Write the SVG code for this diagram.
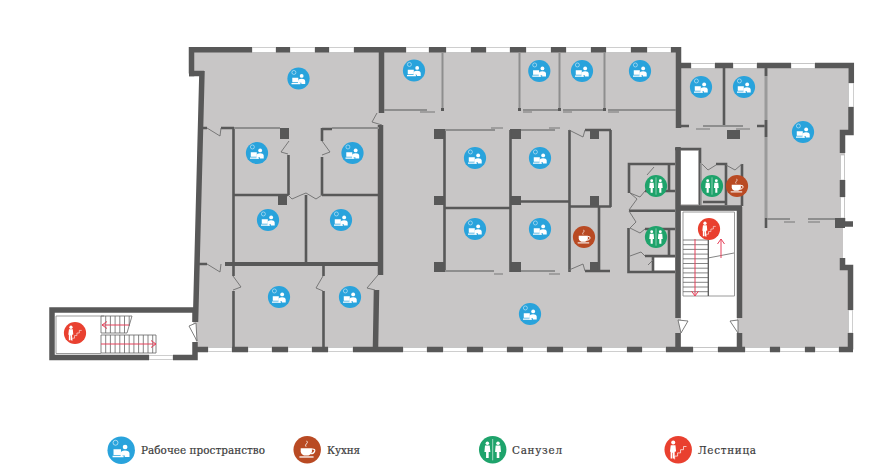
<svg xmlns="http://www.w3.org/2000/svg" width="896" height="476" viewBox="0 0 896 476">
<style>
text{font-family:"DejaVu Serif","Liberation Serif",serif;font-size:10.4px;fill:#3a3a3a;stroke:#3a3a3a;stroke-width:.18}
path,line,polyline{fill:none}
.f{fill:#c8c6c6}
.w{stroke:#585858;stroke-width:5.5}
.m{stroke:#585858;stroke-width:2.6}
.l{stroke:#8e8e8e;stroke-width:2}
.d{stroke:#6e6e6e;stroke-width:.9}
.b{fill:#585858}
.win{fill:#fff;stroke:#b9b9b9;stroke-width:.7}
.t{stroke:#666;stroke-width:.8}
.r{stroke:#e5405a;stroke-width:1}
.g{fill:#fff}
.gs{stroke:#fff;stroke-width:.8;fill:none}
</style>
<defs>
<marker id="ah" markerWidth="8" markerHeight="8" refX="6" refY="4" orient="auto" markerUnits="userSpaceOnUse"><path d="M1 .5L6 4L1 7.500" stroke="#e5405a" stroke-width="1"/></marker>
<symbol id="work" viewBox="-12 -12 24 24" overflow="visible">
<circle r="11.600" fill="#29a3dc"/>
<circle cx="-4.800" cy="-6.300" r="2.100" class="gs" style="stroke-width:.5"/>
<circle cx="3.300" cy="-2.700" r="2" class="g"/>
<path class="g" d="M-.5 5.800V2.500Q-.2 .2 3.200 .2T7 2.500V5.800H3V4.500H1V5.800Z"/>
<path class="g" d="M-6.500 -.8H-.2V4H-6.500ZM-7.300 4.600H2V6H-7.300Z"/>
</symbol>
<symbol id="cup" viewBox="-12 -12 24 24" overflow="visible">
<circle r="11.600" fill="#b94a23"/>
<path class="g" d="M-5.500 -1.200H4V1.500Q3.500 5 -.8 5T-5.500 1.500Z"/>
<path class="gs" style="stroke-width:1" d="M4 -.6Q7 -.8 6.300 1.300T3 3.400"/>
<path class="g" d="M-6.600 5.600H5.400V6.700H-6.600Z"/>
<path class="gs" style="stroke-width:.7" d="M-1 -2.500Q-2 -4 -.6 -5T-.4 -7.500"/>
</symbol>
<symbol id="wc" viewBox="-12 -12 24 24" overflow="visible">
<circle r="11.600" fill="#1ea36b"/>
<path d="M0 -9V9" class="gs" style="stroke-width:.5"/>
<circle cx="-4.500" cy="-5.500" r="1.500" class="g"/>
<circle cx="4.500" cy="-5.500" r="1.500" class="g"/>
<path class="g" d="M-6.500 -3.500H-2.500L-2 2H-3.400V7H-5.600V2H-7Z"/>
<path class="g" d="M2.500 -3.500H6.500L7 2H5.600V7H3.400V2H2Z"/>
</symbol>
<symbol id="stair" viewBox="-12 -12 24 24" overflow="visible">
<circle r="11.600" fill="#e9402f"/>
<circle cx="-4.200" cy="-6" r="1.700" class="g"/>
<path class="g" d="M-6.300 -3.800H-2.300L-1.800 1.500L-3 1.800V7.500H-4.500V2.500H-5V7.500H-6.400V1.800H-7Z"/>
<path class="gs" style="stroke-width:.6" d="M-3 8.200V5.400H-.5V2.700H2V0H4.500V-2.700H7"/>
</symbol>
</defs>

<g id="floor">
<path class="f" d="M190 48H680V63H853V135H845V228H843V265H852V351H193L196 342L193 326L196 300L203 76H190Z"/>
<path class="g" d="M681 151H698V204H681ZM681 211H737V347H681ZM654 258H675V270H654Z"/>
</g>

<g id="windows">
<path class="win" d="M252 47.500h24v5h-24zM290 47.500h25v5h-25zM329 47.500h25v5h-25zM406 47.500h23v5h-23zM446 47.500h25v5h-25zM486 47.500h24v5h-24zM526 47.500h25v5h-25zM566 47.500h25v5h-25zM606 47.500h25v5h-25zM647 47.500h24v5h-24zM691 63.500h24v5h-24zM733 63.500h24v5h-24zM791 63.500h24v5h-24z"/>
<path class="win" d="M848.500 83h5v24h-5zM840.500 155h4v25h-4zM840.500 197h4v21h-4zM848.500 310h4v23h-4z"/>
<path class="win" d="M208 347.500h24v4h-24zM248 347.500h24v4h-24zM288 347.500h24v4h-24zM328 347.500h25v4h-25zM403 347.500h24v4h-24zM443 347.500h24v4h-24zM483 347.500h24v4h-24zM523 347.500h24v4h-24zM563 347.500h24v4h-24zM602 347.500h25v4h-25zM642 347.500h24v4h-24zM693 347.500h25v4h-25zM745 347.500h25v4h-25zM780 347.500h25v4h-25zM815 347.500h24v4h-24zM149 355.500h24v4h-24z"/>
</g>

<g id="walls">
<path class="w" d="M189 73.500H191.500V49.700H252M276 49.700H290M315 49.700H329M354 49.700H406M429 49.700H446M471 49.700H486M510 49.700H526M551 49.700H566M591 49.700H606M631 49.700H647M671 49.700H678.500V128"/>
<path class="w" d="M189 73.500H204M202 71L195.500 322"/>
<path class="w" d="M681 65.500H691M715 65.500H733M757 65.500H791M815 65.500H851.300V83M851 107V132.500H842.500V153M842.500 180V197M842.500 218V224H853M842.500 258V267.500H850.500V310M850.500 333V349.500"/>
<path class="w" d="M194 349.500H208M232 349.500H248M272 349.500H288M312 349.500H328M353 349.500H403M427 349.500H443M467 349.500H483M507 349.500H523M547 349.500H563M587 349.500H602M627 349.500H642M666 349.500H693M718 349.500H745M770 349.500H780M805 349.500H815M839 349.500H853"/>
<path class="w" d="M195 322V310H52V357.500H149M173 357.500H195V342"/>
<path class="w" d="M381.500 52V113M380.500 125V275M376.500 290L375.500 347"/>
<path class="w" d="M678 147V318M678 333V347M739.500 207V318M739.500 333V347M678 208H742"/>
<path class="m" d="M675 149H700V205"/>
<path class="b" d="M727 130h13v9h-13zM280 128h9v11h-9zM278 195h9v10h-9zM434 129h11v10h-11zM434 196h11v9h-11zM434 262h11v10h-11zM510 129h11v10h-11zM510 196h11v9h-11zM510 262h11v10h-11zM590 130h9v9h-9zM590 196h9v10h-9zM590 262h9v9h-9zM835 218h10v10h-10zM840 258h5v10h-5z"/>

<path class="m" d="M200 128H207M221 128H234M233.500 128V263M233.500 195H288M288.500 155V195M322 128V141M322 157V195M322 129H332M306 195V262M322 195H378"/>
<path class="w" style="stroke-width:4" d="M225 264H378"/>
<path class="m" d="M198 264H207M233.500 264V276M233.500 291V347M323.500 264V276M323.500 291V347"/>
<path class="l" d="M234 128H280M332 128H379"/>
<path class="d" d="M207 128L220 136L221 128M289 141L281 152L288 154M322 141L330 152L322 155M377 113L372 122L382 125M207 264L220 272L221 264M233 276L241 287L233 290M323 276L316 288L323 291M378 275L367 288L375 290M288 195L292 199L301 195L306 193L316 199L322 195"/>

<path class="l" d="M384 110H427M442.500 53V110M519.500 53V110M559.500 53V110M604.500 53V110M523 110H559M563 110H604M608 110H676"/>
<path class="d" d="M420 112H435M523 112H532M563 112H572M608 112H619"/>
<path class="b" d="M441 108h3v3h-3zM518 108h3v3h-3zM558 108h3v3h-3zM603 108h3v3h-3z"/>

<path class="m" d="M724 68V125M681 126H689M757 126H766"/>
<path class="l" d="M703 126H743"/>
<path class="d" d="M696 129H710M736 129H750"/>
<path style="stroke:#9a9a9a;stroke-width:3" d="M766 68V218"/>
<path class="m" d="M766 68V76M766 120V137M766 218V228"/>
<path class="l" d="M767 219H790M808 219H835"/>
<path class="d" d="M784 222H795M808 222H820"/>

<path class="m" d="M444.500 130V272M510.500 130V272M444 208H510M521 201.500H569M569.500 130V272M585 130H611M610.500 130V207M569 206.500H611M599 207V272M585 271H610"/>
<path class="l" d="M445 130H495M521 130H555M445 271H494M521 271H555"/>
<path class="d" d="M491 128H503M549 128H560M494 274H503M549 274H560M569 130L583 137L585 130M569 270L583 264L585 271"/>

<path class="m" d="M675 164H629V193M628.500 228V272H675M629 210.700H675M645 191H675M669 164V191M645 229H675M669 229V256M645 256H675M653 256V272"/>
<path class="m" d="M716 164H726V205M742 164V206M703 202H726"/>
<path class="d" d="M654 167L647 175M630 193L640 197L645 191M629 210L637 199L630 193M630 228L636 222L629 211M630 228L640 233L645 229M630 256L641 252L645 256M648 265L653 260"/>
<path class="d" d="M702 164L708 170L716 165M726 165L735 170L742 164"/>
<path style="stroke-width:1.500;stroke:#9b9b9b" d="M701 163V205"/>

<path class="d" style="fill:#fff" d="M678 320L688 321L681 333ZM738 320L730 321L738 333Z"/>
<path class="d" style="fill:#fff" d="M189 326L196 323L197 341Z"/>
</g>

<g id="stairs">
<path class="l" style="stroke-width:.9" d="M683 296V212H734.500V296H683M56 353.500V316H104M56 353.500H101"/>
<path class="t" d="M683 240H708M683 244.700H708M683 249.400H708M683 254.100H708M683 258.800H708M683 263.500H708M683 268.200H708M683 272.900H708M683 277.600H708M683 282.300H708M683 287H708M683 291.700H708"/>
<path class="m" style="stroke-width:1.300" d="M708.300 240V296"/>
<path class="t" d="M708 258L734 253"/>
<path class="r" marker-end="url(#ah)" d="M695 239V296"/>
<path class="r" marker-end="url(#ah)" d="M721 258V239"/>
<path class="t" d="M101 316H132L127 333H101ZM101 335H156V353H101Z"/>
<path class="t" d="M105.700 316V333M110.400 316V333M115.100 316V333M119.800 316V333M124.500 316V333M129.200 316V326M105.700 335V353M110.400 335V353M115.100 335V353M119.800 335V353M124.500 335V353M129.200 335V353M133.900 335V353M138.600 335V353M143.300 335V353M148 335V353M152.700 335V353"/>
<path class="r" marker-end="url(#ah)" d="M129 325H102"/>
<path class="r" marker-end="url(#ah)" d="M101 344H156"/>
</g>

<g id="work-1"><use href="#work" x="287" y="67" width="23" height="23"/></g>
<g id="work-2"><use href="#work" x="402.500" y="59" width="23" height="23"/></g>
<g id="work-3"><use href="#work" x="527.800" y="59.500" width="23" height="23"/></g>
<g id="work-4"><use href="#work" x="570.500" y="59.500" width="23" height="23"/></g>
<g id="work-5"><use href="#work" x="628.500" y="59.500" width="23" height="23"/></g>
<g id="work-6"><use href="#work" x="689.500" y="75.500" width="23" height="23"/></g>
<g id="work-7"><use href="#work" x="732.500" y="75.500" width="23" height="23"/></g>
<g id="work-8"><use href="#work" x="791.500" y="120.500" width="23" height="23"/></g>
<g id="work-9"><use href="#work" x="245.500" y="141.500" width="23" height="23"/></g>
<g id="work-10"><use href="#work" x="341" y="141.500" width="23" height="23"/></g>
<g id="work-11"><use href="#work" x="256.500" y="208.500" width="23" height="23"/></g>
<g id="work-12"><use href="#work" x="329.500" y="208.500" width="23" height="23"/></g>
<g id="work-13"><use href="#work" x="267.500" y="285.500" width="23" height="23"/></g>
<g id="work-14"><use href="#work" x="338.500" y="285.500" width="23" height="23"/></g>
<g id="work-15"><use href="#work" x="463.500" y="146.500" width="23" height="23"/></g>
<g id="work-16"><use href="#work" x="528.500" y="146.500" width="23" height="23"/></g>
<g id="work-17"><use href="#work" x="463.500" y="217.500" width="23" height="23"/></g>
<g id="work-18"><use href="#work" x="528.500" y="217.500" width="23" height="23"/></g>
<g id="work-19"><use href="#work" x="518.500" y="302.500" width="23" height="23"/></g>
<g id="kitchen-1"><use href="#cup" x="572.500" y="225.500" width="23" height="23"/></g>
<g id="kitchen-2"><use href="#cup" x="725.500" y="174.500" width="23" height="23"/></g>
<g id="wc-1"><use href="#wc" x="644.500" y="174.500" width="23" height="23"/></g>
<g id="wc-2"><use href="#wc" x="644.500" y="225.500" width="23" height="23"/></g>
<g id="wc-3"><use href="#wc" x="700.500" y="174.500" width="23" height="23"/></g>
<g id="stair-1"><use href="#stair" x="697.500" y="217.500" width="23" height="23"/></g>
<g id="stair-2"><use href="#stair" x="63.500" y="321.500" width="23" height="23"/></g>

<g id="legend">
<g id="legend-work"><use href="#work" x="107" y="436" width="28.400" height="28.400"/><text x="141" y="453.500" textLength="124">Рабочее пространство</text></g>
<g id="legend-kitchen"><use href="#cup" x="293" y="435.500" width="28.400" height="28.400"/><text x="327" y="453.500" textLength="33">Кухня</text></g>
<g id="legend-wc"><use href="#wc" x="478.500" y="435.500" width="28.400" height="28.400"/><text x="512" y="453.500" textLength="50">Санузел</text></g>
<g id="legend-stair"><use href="#stair" x="664" y="435.500" width="28.400" height="28.400"/><text x="698" y="453.500" textLength="58">Лестница</text></g>
</g>
</svg>
